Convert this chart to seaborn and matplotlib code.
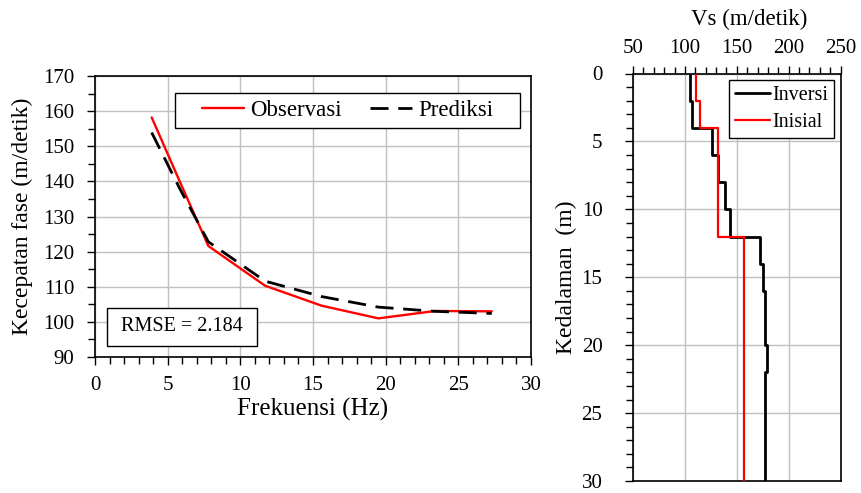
import numpy as np
import pandas as pd
import matplotlib
matplotlib.use("Agg")
import matplotlib.pyplot as plt
from matplotlib.patches import Rectangle
from matplotlib.ticker import MultipleLocator
import seaborn as sns

# ---- data: dispersion curve ----
freq = [3.9, 5.85, 7.8, 11.7, 15.6, 19.5, 23.4, 27.3]
obs = [158.2, 139.8, 121.6, 110.3, 104.6, 101.0, 103.1, 103.0]
pred = [153.9, 137.8, 122.8, 111.6, 107.2, 104.2, 103.0, 102.4]
rmse_text = "RMSE = 2.184"

# ---- data: Vs profiles ----
inv_tops = [0, 2, 4, 6, 8, 10, 12, 14, 16, 20, 22]
inv_vs = [105.2, 106.5, 125.8, 131.6, 138.8, 143.6, 172.8, 175.0, 177.3, 178.8, 177.6]
ini_tops = [0, 2, 4, 12]
ini_vs = [111.0, 114.8, 132.4, 157.4]
max_depth = 30


def step_profile(tops, vs, bottom):
    bots = list(tops[1:]) + [bottom]
    xs, ys = [], []
    for t, b, v in zip(tops, bots, vs):
        xs += [v, v]
        ys += [t, b]
    return pd.DataFrame({"Vs": xs, "depth": ys})


sns.set_theme(style="white")
plt.rcParams["font.family"] = ["Liberation Serif", "DejaVu Serif"]
plt.rcParams["text.color"] = "black"
plt.rcParams["axes.labelcolor"] = "black"
plt.rcParams["xtick.color"] = "black"
plt.rcParams["ytick.color"] = "black"

fig = plt.figure(figsize=(8.61, 4.93), dpi=100)
W, H = 861, 493


def axes_px(x0, y0, x1, y1):
    return fig.add_axes([x0 / W, 1 - y1 / H, (x1 - x0) / W, (y1 - y0) / H])


grid_col = "#c0c0c0"
tick_fs = 15
label_fs = 17

# ================= left panel =================
ax = axes_px(95, 76, 531, 357)
df = pd.DataFrame({"f": freq, "obs": obs, "pred": pred})
sns.lineplot(data=df, x="f", y="obs", ax=ax, color="red", lw=1.7,
             sort=False, estimator=None, label="Observasi", zorder=3)
sns.lineplot(data=df, x="f", y="pred", ax=ax, color="black", lw=2.0,
             sort=False, estimator=None, label="Prediksi",
             linestyle=(0, (6.5, 3.5)), zorder=4)
ax.set_xlim(0, 30)
ax.set_ylim(90, 170)
ax.xaxis.set_major_locator(MultipleLocator(5))
ax.xaxis.set_minor_locator(MultipleLocator(1))
ax.yaxis.set_major_locator(MultipleLocator(10))
ax.yaxis.set_minor_locator(MultipleLocator(5))
ax.grid(True, which="major", color=grid_col, lw=1.0)
ax.set_axisbelow(True)
ax.tick_params(axis="both", which="both", direction="out", bottom=True,
               left=True, top=False, right=False, width=1.0, color="black")
ax.tick_params(axis="both", which="major", length=6, labelsize=tick_fs)
ax.tick_params(axis="both", which="minor", length=5)
ax.tick_params(axis="x", which="major", pad=8)
ax.tick_params(axis="y", which="major", pad=9)
for s in ax.spines.values():
    s.set_color("black")
    s.set_linewidth(1.2)
ax.set_xlabel("Frekuensi (Hz)", fontsize=18, labelpad=2)
ax.set_ylabel("Kecepatan fase (m/detik)", fontsize=label_fs, labelpad=7)

# legend box
ax.add_patch(Rectangle((0.1835, 0.814), 0.7913, 0.1267, transform=ax.transAxes,
                       fill=True, facecolor="white", edgecolor="black", lw=1.0, zorder=5))
handles, labels = ax.get_legend_handles_labels()
leg = ax.legend(handles, labels, ncol=2, frameon=False, fontsize=16.5,
                loc="center", bbox_to_anchor=(0.1835 + 0.7913 / 2, 0.814 + 0.1267 / 2),
                handlelength=1.85, handletextpad=0.25, columnspacing=1.25,
                borderpad=0.0)
leg.set_zorder(6)

# RMSE box
ax.add_patch(Rectangle((0.0282, 0.0402), 0.344, 0.1352, transform=ax.transAxes,
                       fill=True, facecolor="white", edgecolor="black", lw=1.0, zorder=5))
ax.text(0.0282 + 0.172, 0.0402 + 0.0676, rmse_text, transform=ax.transAxes,
        ha="center", va="center", fontsize=14.5, zorder=6)

# ================= right panel =================
ax2 = axes_px(633, 73.5, 840.5, 481)
inv = step_profile(inv_tops, inv_vs, max_depth)
ini = step_profile(ini_tops, ini_vs, max_depth)
sns.lineplot(data=inv, x="Vs", y="depth", ax=ax2, color="black", lw=2.0,
             sort=False, estimator=None, label="Inversi", zorder=3)
sns.lineplot(data=ini, x="Vs", y="depth", ax=ax2, color="red", lw=1.6,
             sort=False, estimator=None, label="Inisial", zorder=4)
ax2.set_xlim(50, 250)
ax2.set_ylim(max_depth, 0)
ax2.xaxis.tick_top()
ax2.xaxis.set_label_position("top")
ax2.xaxis.set_major_locator(MultipleLocator(50))
ax2.xaxis.set_minor_locator(MultipleLocator(10))
ax2.yaxis.set_major_locator(MultipleLocator(5))
ax2.yaxis.set_minor_locator(MultipleLocator(1))
ax2.grid(True, which="major", color=grid_col, lw=1.0)
ax2.set_axisbelow(True)
ax2.tick_params(axis="both", which="both", direction="out", top=True,
                bottom=False, left=True, right=False, width=1.0, color="black")
ax2.tick_params(axis="both", which="major", length=6, labelsize=tick_fs)
ax2.tick_params(axis="both", which="minor", length=5)
ax2.tick_params(axis="x", which="major", pad=5)
ax2.tick_params(axis="y", which="major", pad=16)
for s in ax2.spines.values():
    s.set_color("black")
    s.set_linewidth(1.2)
ax2.set_xlabel("Vs (m/detik)", fontsize=16.5)
ax2.xaxis.set_label_coords(0.559, 1.0 + 54.5 / 407.5)
ax2.xaxis.label.set_va("center")
ax2.set_ylabel("Kedalaman  (m)", fontsize=17, labelpad=3)
leg2 = ax2.legend(loc="upper right", fontsize=14.5, frameon=True, fancybox=False,
                  edgecolor="black", framealpha=1, borderpad=0.3,
                  handlelength=1.75, handletextpad=0.1, labelspacing=0.4,
                  borderaxespad=0.3)
leg2.get_frame().set_linewidth(1.0)

fig.savefig("out.png", dpi=100)
